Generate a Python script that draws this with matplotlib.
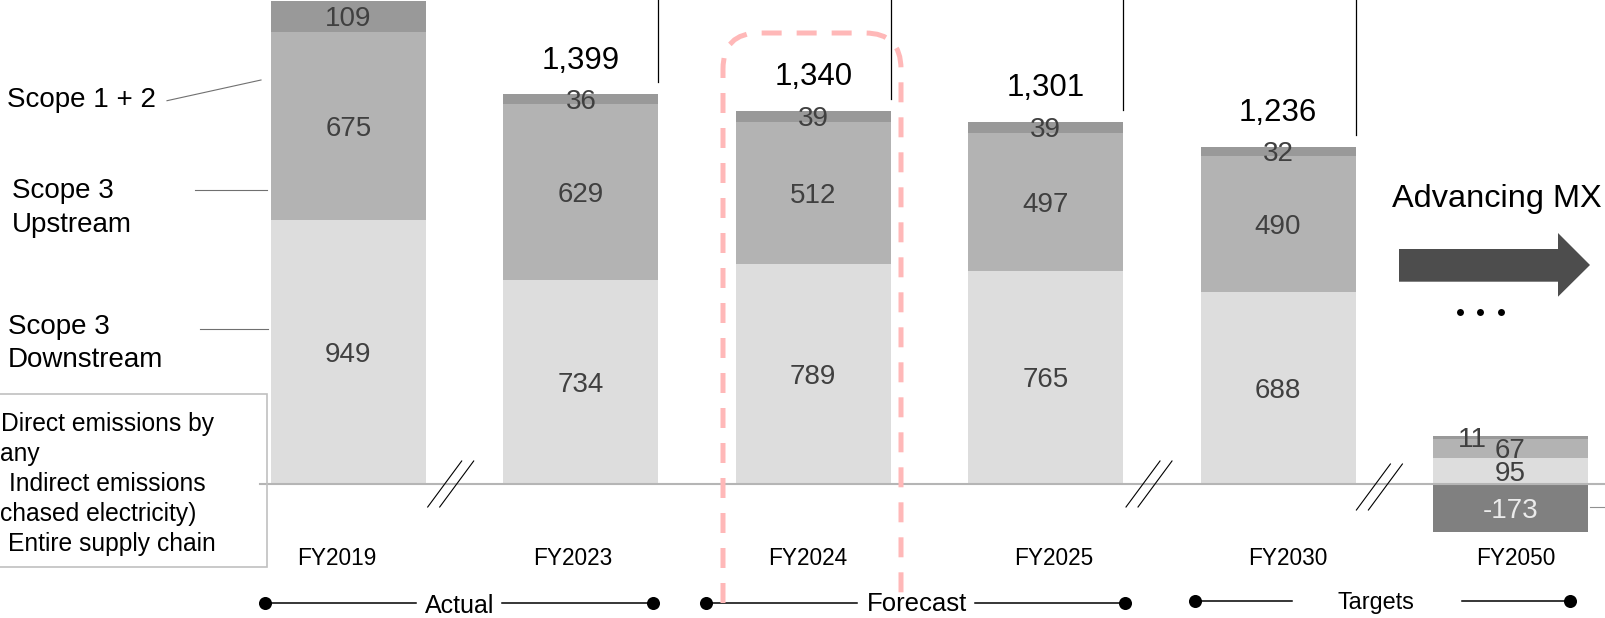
import matplotlib
matplotlib.use("Agg")
import matplotlib.pyplot as plt
from matplotlib.path import Path
from matplotlib.patches import PathPatch, Rectangle, Polygon

plt.rcParams['font.family'] = ['Liberation Sans', 'DejaVu Sans']

# ---- data (kt-CO2) ----
years = ['FY2019', 'FY2023', 'FY2024', 'FY2025', 'FY2030', 'FY2050']
downstream = [949, 734, 789, 765, 688, 95]
upstream = [675, 629, 512, 497, 490, 67]
scope12 = [109, 36, 39, 39, 32, 11]
removals = [0, 0, 0, 0, 0, -173]
totals = [None, 1399, 1340, 1301, 1236, None]

note_lines = ['Direct emissions by', 'any', 'Indirect emissions',
              'chased electricity)', 'Entire supply chain']

C_DOWN = '#dddddd'
C_UP = '#b3b3b3'
C_S12 = '#999999'
C_NEG = '#808080'
C_LBL = '#404040'

W, H = 1605, 618
fig = plt.figure(figsize=(W / 100, H / 100), dpi=100)

# main plotting axes: bars in category/value space
ax = fig.add_axes([0, 0, 1, 1])
step = 232.4
x0 = 348.5
ppu = 0.2785
base_px = 484
ax.set_xlim(-x0 / step, (W - x0) / step)
ax.set_ylim(-(H - base_px) / ppu, base_px / ppu)
ax.axis('off')

xs = list(range(len(years)))
bw = 155 / step
ax.bar(xs, downstream, width=bw, color=C_DOWN, linewidth=0, zorder=2)
ax.bar(xs, upstream, width=bw, bottom=downstream, color=C_UP, linewidth=0, zorder=2)
bot12 = [d + u for d, u in zip(downstream, upstream)]
ax.bar(xs, scope12, width=bw, bottom=bot12, color=C_S12, linewidth=0, zorder=2)
ax.bar(xs, removals, width=bw, color=C_NEG, linewidth=0, zorder=2)


def em(pt):
    return pt / 0.72


def seg_label(x, yval, txt, size=20, color=C_LBL, dx=0):
    ax.annotate(txt, (x, yval), xytext=(dx, -0.358 * em(size)),
                textcoords='offset pixels', ha='center', va='baseline',
                fontsize=size, color=color, zorder=5)


# small horizontal nudges of the year captions (pixels)
year_dx = [-12, -8, -6, 8, 10, 5]

for i in xs:
    d, u, s = downstream[i], upstream[i], scope12[i]
    seg_label(i, d / 2, f'{d}')
    seg_label(i, d + u / 2, f'{u}')
    seg_label(i, d + u + s / 2, f'{s}', dx=(-38 if i == 5 else 0))
    if removals[i]:
        seg_label(i, removals[i] / 2, f'{removals[i]}', color='#ebebeb')
    # category label under the baseline
    ax.annotate(years[i], (i, 0),
                xytext=(year_dx[i], -(556.7 - base_px) - 0.358 * em(16.3)),
                textcoords='offset pixels', ha='center', va='baseline',
                fontsize=16.3, color='black')

# totals and the thin marker lines at the right edge of each bar
for i in xs:
    if totals[i] is None:
        continue
    top = downstream[i] + upstream[i] + scope12[i]
    ax.annotate(f'{totals[i]:,}', (i, top), xytext=(0, 37 - 0.358 * em(22.5)),
                textcoords='offset pixels', ha='center', va='baseline',
                fontsize=22.5, color='black')
    ax.plot([i + bw / 2, i + bw / 2], [top + 12 / ppu, 2000],
            color='black', lw=0.9, zorder=3)

# ---- overlay in pixel coordinates for decorations ----
ov = fig.add_axes([0, 0, 1, 1], zorder=5)
ov.set_xlim(0, W)
ov.set_ylim(H, 0)
ov.axis('off')
ov.patch.set_visible(False)


def ptext(x, yc, s, size, ha='left', color='black', **kw):
    ov.text(x, yc + 0.358 * em(size), s, fontsize=size, ha=ha, va='baseline',
            color=color, **kw)


# baseline
ov.plot([260, W], [base_px, base_px], color='#b5b5b5', lw=1.5, zorder=1)

# scope labels with leader lines
ptext(7, 97, 'Scope 1 + 2', 20)
ov.plot([167, 261], [100.7, 80], color='#707070', lw=0.8)
ptext(12, 188, 'Scope 3', 20)
ptext(12, 222, 'Upstream', 20)
ov.plot([195, 267], [190, 190], color='#707070', lw=0.8)
ptext(8, 324.5, 'Scope 3', 20)
ptext(8, 357, 'Downstream', 20)
ov.plot([200, 268], [328.6, 328.6], color='#707070', lw=0.8)

# notes box
ov.add_patch(Rectangle((-5, 394), 272, 173, fill=False, edgecolor='#c0c0c0', lw=1.2))
note_x = [1, 0, 9, 0, 8]
for k, (nx, line) in enumerate(zip(note_x, note_lines)):
    ptext(nx, 421.7 + 30 * k, line, 17.7)

# axis break marks
for cx, cy in [(450.7, 484), (1149, 484), (1379.4, 487)]:
    for off in (-6, 6):
        ov.plot([cx + off - 17, cx + off + 17], [cy + 23, cy - 23], color='black', lw=0.8)

# small leader at the right edge
ov.plot([1590, W], [507, 507], color='#909090', lw=0.8)

# Advancing MX arrow
ptext(1392, 195, 'Advancing MX', 23.4)
ov.add_patch(Polygon([(1399, 249), (1558, 249), (1558, 233), (1590, 265),
                      (1558, 296.7), (1558, 281.7), (1399, 281.7)],
                     closed=True, facecolor='#4d4d4d', edgecolor='none'))
ov.plot([1460, 1480, 1501], [312, 312, 312], 'o', color='black', ms=5, mew=0)

# timeline
ty = 602.5
dot_ms = 9.4
# Actual
ov.plot([265, 416], [ty, ty], color='black', lw=1.1)
ov.plot([502, 653], [ty, ty], color='black', lw=1.1)
ov.plot([265, 653], [ty, ty], 'o', color='black', ms=dot_ms, mew=0)
ptext(425, 604, 'Actual', 18)
# Forecast
ov.plot([706, 857], [ty, ty], color='black', lw=1.1)
ov.plot([975, 1125], [ty, ty], color='black', lw=1.1)
ov.plot([706, 1125], [ty, ty], 'o', color='black', ms=dot_ms, mew=0)
ptext(867, 601.5, 'Forecast', 18.5)
# Targets
ov.plot([1195, 1292], [601, 601], color='black', lw=1.1)
ov.plot([1462, 1570], [601, 601], color='black', lw=1.1)
ov.plot([1195, 1570], [601, 601], 'o', color='black', ms=dot_ms, mew=0)
ptext(1338, 600.5, 'Targets', 16.8)

# dashed rounded frame around the current forecast year
L, R, T, B, r = 723, 901, 33, 603, 36
verts = [(L, B), (L, T + r), (L, T), (L + r, T), (R - r, T), (R, T), (R, T + r), (R, B)]
codes = [Path.MOVETO, Path.LINETO, Path.CURVE3, Path.CURVE3,
         Path.LINETO, Path.CURVE3, Path.CURVE3, Path.LINETO]
ov.add_patch(PathPatch(Path(verts, codes), fill=False, edgecolor='#ffb8b8',
                       lw=3.6, linestyle=(0, (4, 3)), zorder=10))

fig.savefig('out.png', dpi=100)
